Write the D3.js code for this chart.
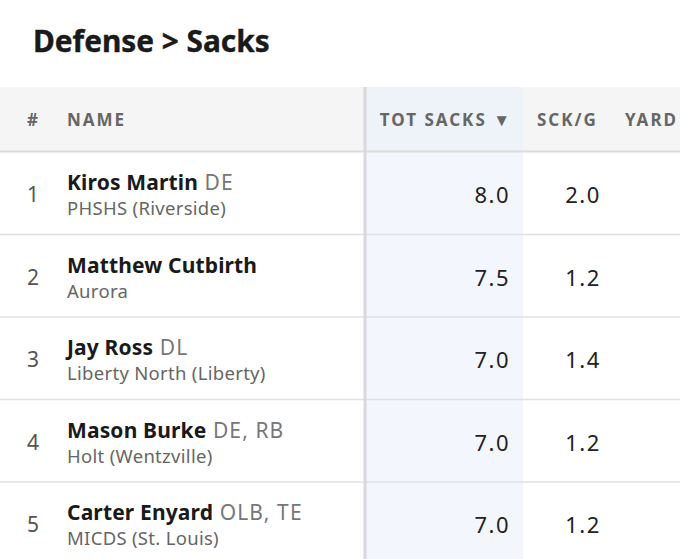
<!DOCTYPE html>
<html><head><meta charset="utf-8">
<script src="https://cdn.jsdelivr.net/npm/d3@7"></script>
<style>
html,body{margin:0;padding:0;background:#fff;overflow:hidden;}
svg{display:block;font-family:"Noto Sans","Open Sans",sans-serif;}
</style></head>
<body>
<svg id="chart" width="680" height="559"></svg>
<script>
const title = "Defense > Sacks";
const headers = ["#", "NAME", "TOT SACKS \u25BC", "SCK/G", "YARD"];
const ranks = [1, 2, 3, 4, 5];
const names = ["Kiros Martin", "Matthew Cutbirth", "Jay Ross", "Mason Burke", "Carter Enyard"];
const positions = ["DE", "", "DL", "DE, RB", "OLB, TE"];
const schools = ["PHSHS (Riverside)", "Aurora", "Liberty North (Liberty)", "Holt (Wentzville)", "MICDS (St. Louis)"];
const totSacks = [8.0, 7.5, 7.0, 7.0, 7.0];
const sacksPerGame = [2.0, 1.2, 1.4, 1.2, 1.2];

const W = 680, H = 559;
const svg = d3.select("#chart");

// title
svg.append("text").attr("x", 33).attr("y", 52)
  .attr("font-size", 29.8).attr("font-weight", 700).attr("fill", "#1a1a1a")
  .attr("stroke", "#1a1a1a").attr("stroke-width", 0.4)
  .text(title);

// header band
const headTop = 87, headBot = 151.5;
svg.append("rect").attr("x", 0).attr("y", headTop).attr("width", W).attr("height", headBot - headTop).attr("fill", "#f5f5f5");

// rows scale
const y = d3.scaleBand().domain(ranks).range([152, 152 + 5 * 82.5]);

// highlighted column
svg.append("rect").attr("x", 366).attr("y", headTop).attr("width", 157).attr("height", H - headTop).attr("fill", "#f3f6fd");
svg.append("rect").attr("x", 366).attr("y", headTop).attr("width", 157).attr("height", headBot - headTop).attr("fill", "#eef2f9");

// header bottom line
svg.append("line").attr("x1", 0).attr("x2", W).attr("y1", headBot).attr("y2", headBot).attr("stroke", "#dcdcdc").attr("stroke-width", 2);

// row separators
svg.selectAll("line.sep").data(ranks.slice(1)).join("line").attr("class", "sep")
  .attr("x1", 0).attr("x2", W)
  .attr("y1", d => y(d)).attr("y2", d => y(d))
  .attr("stroke", "#e0e0e0").attr("stroke-width", 1.5);

// vertical divider
svg.append("rect").attr("x", 363.5).attr("y", headTop).attr("width", 3).attr("height", H - headTop).attr("fill", "#d9d9dd");

// header text
const hx = [27, 67, 510, 537, 625];
const anchors = ["start", "start", "end", "start", "start"];
svg.selectAll("text.hdr").data(headers).join("text").attr("class", "hdr")
  .attr("x", (d, i) => hx[i] + (anchors[i] === "end" ? 2 : 0)).attr("y", 126)
  .attr("text-anchor", (d, i) => anchors[i])
  .attr("font-size", 17).attr("font-weight", 700).attr("fill", "#666")
  .attr("letter-spacing", 2).text(d => d);

// rows
const rows = svg.selectAll("g.row").data(ranks).join("g").attr("class", "row")
  .attr("transform", d => `translate(0,${y(d)})`);

rows.append("text").attr("x", 33).attr("y", 50).attr("text-anchor", "middle")
  .attr("font-size", 21).attr("fill", "#555").text(d => d);

const nm = rows.append("text").attr("x", 67).attr("y", 38).attr("font-size", 21);
nm.append("tspan").attr("font-weight", 700).attr("fill", "#1a1a1a").attr("letter-spacing", 0.15).text((d, i) => names[i]);
nm.append("tspan").attr("fill", "#777").attr("font-weight", 400)
  .attr("letter-spacing", 1.1).text((d, i) => positions[i] ? " " + positions[i] : "");

rows.append("text").attr("x", 67).attr("y", 63).attr("font-size", 18.5).attr("fill", "#666")
  .attr("letter-spacing", 0.3).text((d, i) => schools[i]);

rows.append("text").attr("x", 510).attr("y", 51).attr("text-anchor", "end")
  .attr("font-size", 22).attr("fill", "#222").attr("letter-spacing", 1.5)
  .text((d, i) => d3.format(".1f")(totSacks[i]));

rows.append("text").attr("x", 583).attr("y", 51).attr("text-anchor", "middle")
  .attr("font-size", 22).attr("fill", "#222").attr("letter-spacing", 1.5)
  .text((d, i) => d3.format(".1f")(sacksPerGame[i]));
</script>
</body></html>
